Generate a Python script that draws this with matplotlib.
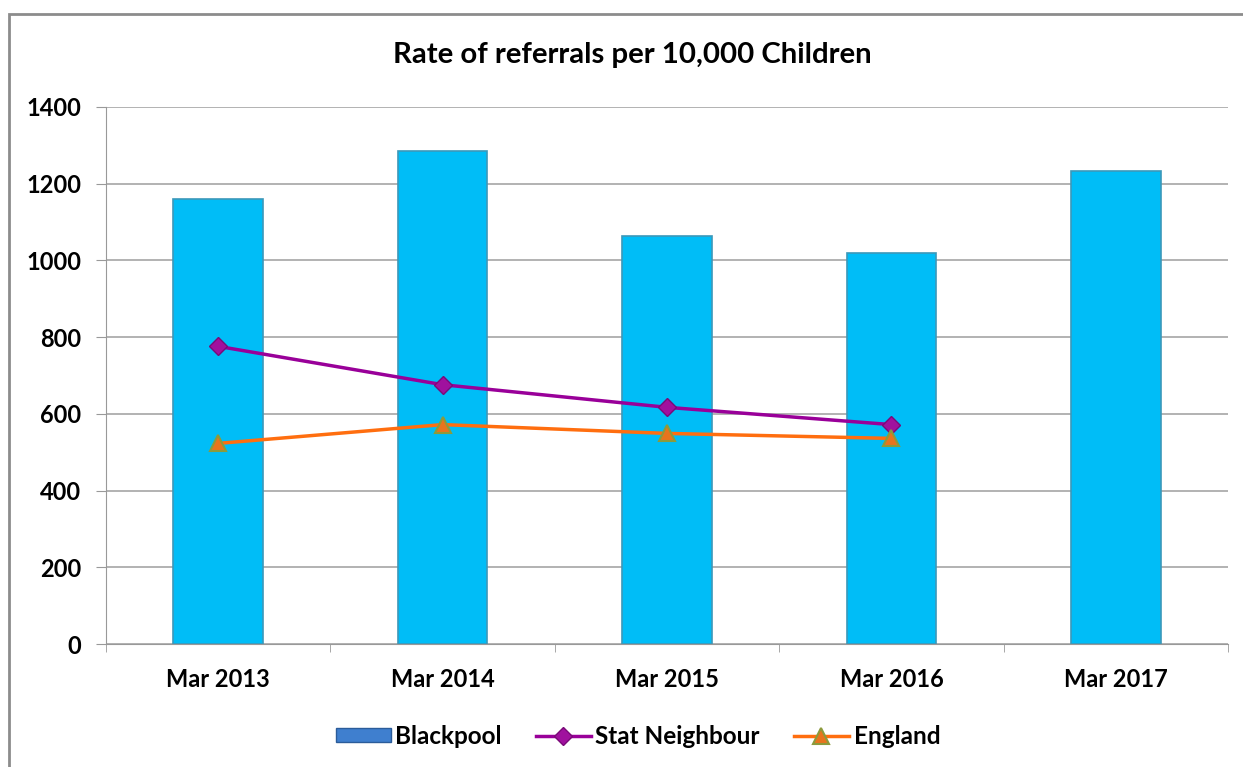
import matplotlib.pyplot as plt
from matplotlib.patches import Patch, Rectangle
from matplotlib.lines import Line2D

plt.rcParams['font.family'] = ['Lato', 'DejaVu Sans']

categories = ["Mar 2013", "Mar 2014", "Mar 2015", "Mar 2016", "Mar 2017"]
blackpool = [1160, 1285, 1064, 1020, 1233]
stat_neighbour = [776, 676, 617, 572]
england = [523, 572, 549, 536]

fig = plt.figure(figsize=(12.43, 7.67), dpi=100)
ax = fig.add_axes([106 / 1243, 1 - 644 / 767, (1228 - 106) / 1243, (644 - 107) / 767])

x = list(range(len(categories)))
ax.bar(x, blackpool, width=0.4, color='#00BDF7', edgecolor='#3B98BA', linewidth=1.2, zorder=2)
ax.plot(x[:4], stat_neighbour, color='#990099', linewidth=2.5, marker='D', markersize=9,
        markerfacecolor='#A0119E', markeredgecolor='#7A0A78', zorder=3)
ax.plot(x[:4], england, color='#FF6E0F', linewidth=2.5, marker='^', markersize=11,
        markerfacecolor='#E8741E', markeredgecolor='#8C9A3C', markeredgewidth=1.5, zorder=3)

ax.set_xlim(-0.5, 4.5)
ax.set_ylim(0, 1400)
ax.set_yticks(range(0, 1401, 200))
ax.set_xticks(x)
ax.set_xticklabels(categories, fontsize=17, fontweight='bold')
ax.set_xticks([i + 0.5 for i in range(-1, 5)], minor=True)
ax.tick_params(axis='x', which='major', length=0, pad=17)
ax.tick_params(axis='x', which='minor', length=6, color='#999999')
ax.tick_params(axis='y', length=7, color='#999999', labelsize=17, pad=11)
for lbl in ax.get_yticklabels():
    lbl.set_fontweight('bold')

ax.grid(axis='y', color='#A6A6A6', linewidth=1.2, zorder=0)
ax.set_axisbelow(True)
for s in ['top', 'right']:
    ax.spines[s].set_visible(False)
ax.spines['left'].set_color('#999999')
ax.spines['bottom'].set_color('#999999')

fig.text(632 / 1243, 1 - 55 / 767, "Rate of referrals per 10,000 Children",
         ha='center', va='center', fontsize=21.2, fontweight='bold')

handles = [
    Patch(facecolor='#3F7FCF', edgecolor='#2B5C9A'),
    Line2D([], [], color='#990099', linewidth=2.5, marker='D', markersize=9,
           markerfacecolor='#A0119E', markeredgecolor='#7A0A78'),
    Line2D([], [], color='#FF6E0F', linewidth=2.5, marker='^', markersize=11,
           markerfacecolor='#E8741E', markeredgecolor='#8C9A3C', markeredgewidth=1.5),
]
fig.legend(handles, ["Blackpool", "Stat Neighbour", "England"], loc='center',
           bbox_to_anchor=(638 / 1243, 1 - 736 / 767), ncol=3, frameon=False,
           prop={'size': 17.5, 'weight': 'bold'}, handlelength=2.25, columnspacing=1.4,
           handletextpad=0.2, handleheight=0.5)

fig.patches.append(Rectangle((9 / 1243, -0.1), 1.2, 1 - 14 / 767 + 0.1,
                             transform=fig.transFigure, fill=False,
                             edgecolor='#8C8C8C', linewidth=2))

fig.savefig("out.png", dpi=100)
